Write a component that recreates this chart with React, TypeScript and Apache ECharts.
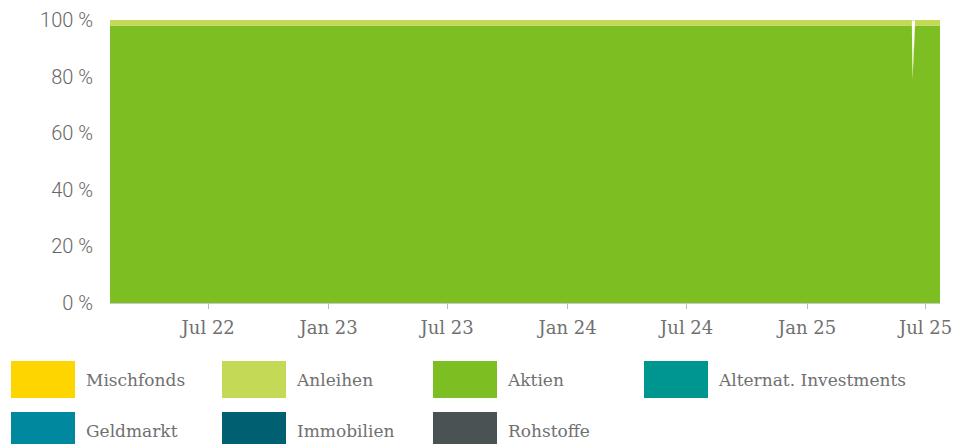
import React, { useEffect, useRef } from "react";
import * as echarts from "echarts";

const START_DATE = "2022-02-01";
const END_DATE = "2025-07-23";

const aktienData: [string, number][] = [
  ["2022-02-01", 98.1],
  ["2025-06-10", 98.1],
  ["2025-06-11", 79.0],
  ["2025-06-15", 98.1],
  ["2025-07-23", 98.1],
];
const anleihenData: [string, number][] = [
  ["2022-02-01", 1.9],
  ["2025-06-10", 1.9],
  ["2025-06-11", 2.0],
  ["2025-06-15", 1.9],
  ["2025-07-23", 1.9],
];
const zeroData: [string, number][] = [
  ["2022-02-01", 0],
  ["2025-06-10", 0],
  ["2025-06-11", 0],
  ["2025-06-15", 0],
  ["2025-07-23", 0],
];

const tickDates = ["2022-07-01", "2023-01-01", "2023-07-01", "2024-01-01", "2024-07-01", "2025-01-01", "2025-07-01"];
const tickLabels = ["Jul 22", "Jan 23", "Jul 23", "Jan 24", "Jul 24", "Jan 25", "Jul 25"];
const yTicks = [0, 20, 40, 60, 80, 100];

const legendNames = ["Mischfonds", "Anleihen", "Aktien", "Alternat. Investments", "Geldmarkt", "Immobilien", "Rohstoffe"];
const legendColors = ["#FFD500", "#C4D955", "#7DBE23", "#009690", "#00889F", "#005F70", "#4A5354"];

function toTs(s: string): number {
  const [y, m, d] = s.split("-").map(Number);
  return Date.UTC(y, m - 1, d);
}

export default function App() {
  const ref = useRef<HTMLDivElement>(null);
  useEffect(() => {
    if (!ref.current) return;
    const chart = echarts.init(ref.current, undefined, { renderer: "svg" });
    const tickTs = tickDates.map(toTs);
    const seriesData: Record<string, [string, number][]> = {
      Aktien: aktienData,
      Anleihen: anleihenData,
    };
    const stackOrder = ["Aktien", "Anleihen", "Mischfonds", "Alternat. Investments", "Geldmarkt", "Immobilien", "Rohstoffe"];
    const series = stackOrder.map((name) => {
      const color = legendColors[legendNames.indexOf(name)];
      const raw = seriesData[name] || zeroData;
      return {
        name,
        type: "line",
        stack: "total",
        // value first so that stacking happens on the y dimension
        data: raw.map(([d, v]) => [v, toTs(d)]),
        encode: { x: 1, y: 0 },
        showSymbol: false,
        symbol: "none",
        lineStyle: { width: 0, color },
        itemStyle: { color },
        areaStyle: { color, opacity: 1 },
        silent: true,
      };
    });
    const legendPos = [
      [11, 361], [222, 361], [433, 361], [644, 361],
      [11, 412], [222, 412], [433, 412],
    ];
    const legends = legendNames.map((name, i) => ({
      data: [{ name, icon: "rect" }],
      left: legendPos[i][0],
      top: legendPos[i][1],
      padding: 0,
      itemWidth: 64,
      itemHeight: 37,
      selectedMode: false,
      textStyle: {
        fontFamily: "DejaVu Serif",
        fontSize: 17,
        color: "#707070",
        padding: [0, 0, 0, 6],
      },
    }));
    chart.setOption({
      animation: false,
      color: legendColors,
      legend: legends,
      grid: { left: 110, right: 29, top: 20, bottom: 141, containLabel: false },
      xAxis: {
        type: "value",
        min: toTs(START_DATE),
        max: toTs(END_DATE),
        axisLine: { show: true, lineStyle: { color: "#c8c8c8", width: 1 } },
        axisTick: { show: true, customValues: tickTs, length: 6, lineStyle: { color: "#bbb" } },
        splitLine: { show: false },
        axisLabel: {
          customValues: tickTs,
          margin: 15,
          fontFamily: "DejaVu Serif",
          fontSize: 18,
          color: "#707070",
          formatter: (v: number) => {
            const idx = tickTs.indexOf(v);
            return idx >= 0 ? tickLabels[idx] : "";
          },
        },
      },
      yAxis: {
        type: "value",
        min: 0,
        max: 100,
        interval: 20,
        axisLine: { show: false },
        axisTick: { show: false },
        splitLine: { show: true, lineStyle: { color: "#dcdcdc" } },
        axisLabel: {
          margin: 17,
          fontFamily: "Roboto",
          fontWeight: 300,
          fontSize: 20,
          color: "#666",
          formatter: (v: number) => (yTicks.includes(v) ? `${v} %` : ""),
        },
      },
      series,
    });
    return () => chart.dispose();
  }, []);
  return <div ref={ref} style={{ width: 969, height: 444, position: "absolute", left: 0, top: 0 }} />;
}
